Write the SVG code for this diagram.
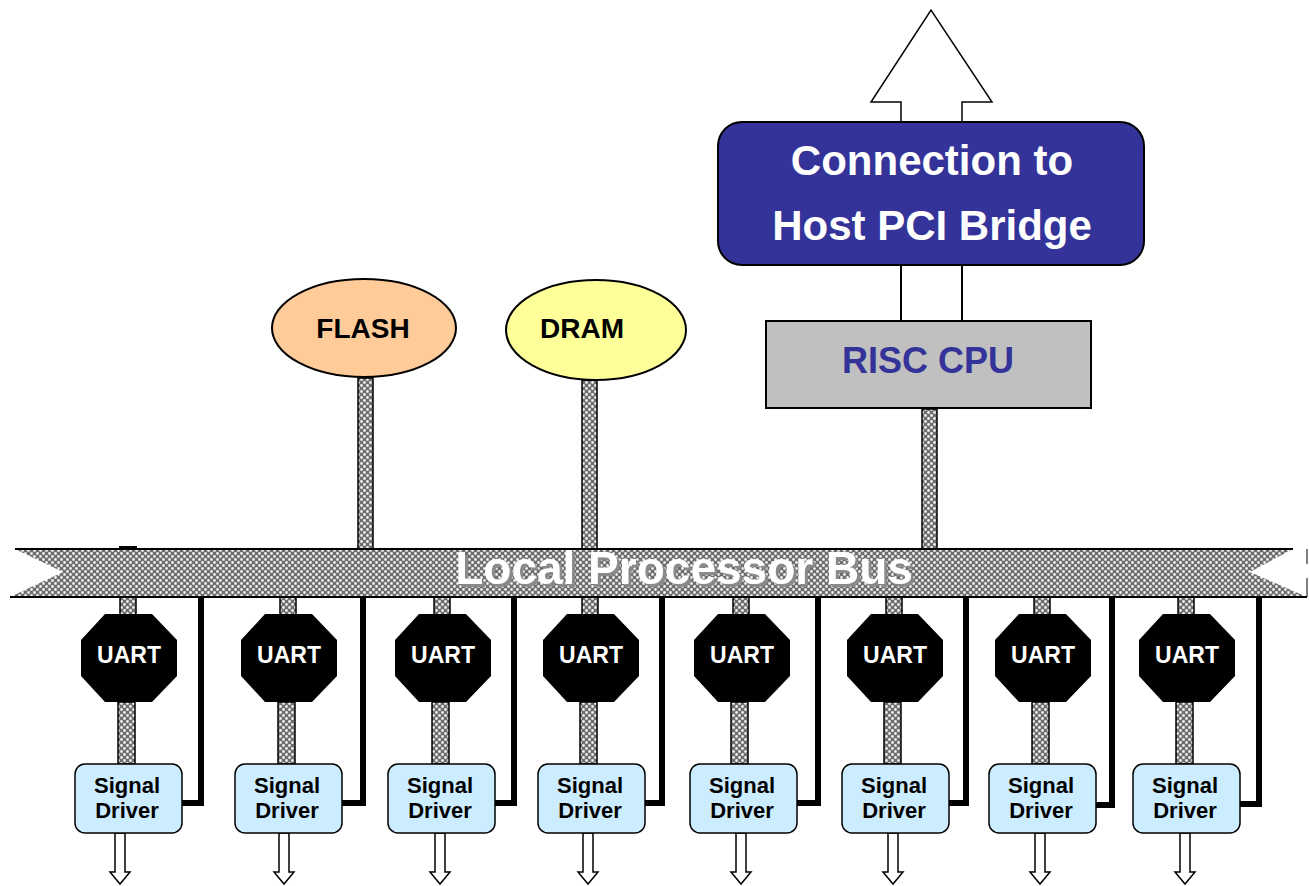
<svg xmlns="http://www.w3.org/2000/svg" width="1309" height="886" viewBox="0 0 1309 886">
<defs>
<pattern id="hatch" width="6" height="6" patternUnits="userSpaceOnUse">
<rect width="6" height="6" fill="#6e6e6e"/>
<rect x="0" y="0" width="3" height="3" fill="#9c9c9c"/>
<rect x="3" y="3" width="3" height="3" fill="#9c9c9c"/>
<circle cx="1.5" cy="1.5" r="1.15" fill="#fff"/>
<circle cx="4.5" cy="4.5" r="1.15" fill="#fff"/>
</pattern>
<filter id="shadow" x="-5%" y="-20%" width="110%" height="140%">
<feOffset in="SourceAlpha" dx="3" dy="3" result="off"/>
<feFlood flood-color="#8a8a8a"/>
<feComposite in2="off" operator="in" result="sh"/>
<feMerge><feMergeNode in="sh"/><feMergeNode in="SourceGraphic"/></feMerge>
</filter>
<style>
text{font-family:"Liberation Sans",Arial,sans-serif;font-weight:bold;text-anchor:middle}
.stub{fill:url(#hatch);stroke:#000;stroke-width:1.5}
.bar{fill:none;stroke:#000;stroke-width:6}
.thin{fill:none;stroke:#000;stroke-width:2}
.oarrow{fill:#fff;stroke:#000;stroke-width:1.5;stroke-linejoin:miter}
.uart{fill:#000}
.uart text{fill:#fff;font-size:23px}
.sd rect{fill:#CCECFF;stroke:#000;stroke-width:1.5}
.sd text{fill:#000;font-size:22px}
</style>
</defs>
<rect width="1309" height="886" fill="#fff"/>

<g id="connectors">
<polygon class="oarrow" points="901,122 901,102 871,102 931,10 992,102 962,102 962,122" stroke-width="2"/>
<line class="thin" x1="901" y1="265" x2="901" y2="321"/>
<line class="thin" x1="962" y1="265" x2="962" y2="321"/>
<rect class="stub" x="358" y="378" width="15" height="171"/>
<rect class="stub" x="582" y="380" width="15" height="169"/>
<rect class="stub" x="922" y="409" width="15" height="140"/>
<line x1="119" y1="547" x2="137" y2="547" stroke="#000" stroke-width="2"/>
<g id="col-stubs">
<rect class="stub" x="120" y="597" width="16" height="18"/><rect class="stub" x="118" y="702" width="17" height="62"/>
<rect class="stub" x="280" y="597" width="16" height="18"/><rect class="stub" x="278" y="702" width="17" height="62"/>
<rect class="stub" x="434" y="597" width="16" height="18"/><rect class="stub" x="432" y="702" width="17" height="62"/>
<rect class="stub" x="582" y="597" width="16" height="18"/><rect class="stub" x="580" y="702" width="17" height="62"/>
<rect class="stub" x="733" y="597" width="16" height="18"/><rect class="stub" x="731" y="702" width="17" height="62"/>
<rect class="stub" x="886" y="597" width="16" height="18"/><rect class="stub" x="884" y="702" width="17" height="62"/>
<rect class="stub" x="1034" y="597" width="16" height="18"/><rect class="stub" x="1032" y="702" width="17" height="62"/>
<rect class="stub" x="1178" y="597" width="16" height="18"/><rect class="stub" x="1176" y="702" width="17" height="62"/>
</g>
<g id="returns">
<polyline class="bar" points="201,598 201,803 182,803"/>
<polyline class="bar" points="363,598 363,803 342,803"/>
<polyline class="bar" points="514,598 514,803 495,803"/>
<polyline class="bar" points="662,598 662,803 645,803"/>
<polyline class="bar" points="818,598 818,803 797,803"/>
<polyline class="bar" points="966,598 966,803 949,803"/>
<polyline class="bar" points="1112,598 1112,805 1096,805"/>
<polyline class="bar" points="1259,598 1259,804 1240,804"/>
</g>
<g id="outputs">
<polygon class="oarrow" points="115,833 115,872 110,872 120,884 130,872 125,872 125,833"/>
<polygon class="oarrow" points="279,833 279,872 274,872 284,884 294,872 289,872 289,833"/>
<polygon class="oarrow" points="435,833 435,872 430,872 440,884 450,872 445,872 445,833"/>
<polygon class="oarrow" points="583,833 583,872 578,872 588,884 598,872 593,872 593,833"/>
<polygon class="oarrow" points="736,833 736,872 731,872 741,884 751,872 746,872 746,833"/>
<polygon class="oarrow" points="888,833 888,872 883,872 893,884 903,872 898,872 898,833"/>
<polygon class="oarrow" points="1035,833 1035,872 1030,872 1040,884 1050,872 1045,872 1045,833"/>
<polygon class="oarrow" points="1180,833 1180,872 1175,872 1185,884 1195,872 1190,872 1190,833"/>
</g>
</g>

<g id="bus">
<polygon points="15,549 1293,549 1250,572 1307,597 10,597 63,572" fill="url(#hatch)"/>
<line x1="15" y1="549" x2="1293" y2="549" stroke="#000" stroke-width="2"/>
<line x1="10" y1="597" x2="1307" y2="597" stroke="#000" stroke-width="2"/>
<line x1="1307" y1="549" x2="1307" y2="564" stroke="#000" stroke-width="1"/>
<line x1="1307" y1="578" x2="1307" y2="597" stroke="#000" stroke-width="1"/>
<text x="684" y="584" font-size="46" fill="#fff" filter="url(#shadow)">Local Processor Bus</text>
</g>

<g id="flash">
<ellipse cx="364" cy="328" rx="92" ry="49" fill="#FFCC99" stroke="#000" stroke-width="2"/>
<text x="363" y="338" font-size="28">FLASH</text>
</g>
<g id="dram">
<ellipse cx="596" cy="330" rx="90" ry="50" fill="#FFFF99" stroke="#000" stroke-width="2"/>
<text x="582" y="338" font-size="28">DRAM</text>
</g>
<g id="host-bridge">
<rect x="718" y="122" width="426" height="143" rx="24" fill="#333399" stroke="#000" stroke-width="2"/>
<text x="932" y="175" font-size="42" fill="#fff">Connection to</text>
<text x="932" y="240" font-size="42" fill="#fff">Host PCI Bridge</text>
</g>
<g id="risc-cpu">
<rect x="766" y="321" width="325" height="87" fill="#C0C0C0" stroke="#000" stroke-width="2"/>
<text x="928" y="373" font-size="36" fill="#333399">RISC CPU</text>
</g>

<g id="uart1" class="uart" transform="translate(129,658)"><polygon points="-24,-44 23,-44 48,-18 48,18 23,44 -24,44 -48,18 -48,-18"/><text x="0" y="5">UART</text></g>
<g id="uart2" class="uart" transform="translate(289,658)"><polygon points="-24,-44 23,-44 48,-18 48,18 23,44 -24,44 -48,18 -48,-18"/><text x="0" y="5">UART</text></g>
<g id="uart3" class="uart" transform="translate(443,658)"><polygon points="-24,-44 23,-44 48,-18 48,18 23,44 -24,44 -48,18 -48,-18"/><text x="0" y="5">UART</text></g>
<g id="uart4" class="uart" transform="translate(591,658)"><polygon points="-24,-44 23,-44 48,-18 48,18 23,44 -24,44 -48,18 -48,-18"/><text x="0" y="5">UART</text></g>
<g id="uart5" class="uart" transform="translate(742,658)"><polygon points="-24,-44 23,-44 48,-18 48,18 23,44 -24,44 -48,18 -48,-18"/><text x="0" y="5">UART</text></g>
<g id="uart6" class="uart" transform="translate(895,658)"><polygon points="-24,-44 23,-44 48,-18 48,18 23,44 -24,44 -48,18 -48,-18"/><text x="0" y="5">UART</text></g>
<g id="uart7" class="uart" transform="translate(1043,658)"><polygon points="-24,-44 23,-44 48,-18 48,18 23,44 -24,44 -48,18 -48,-18"/><text x="0" y="5">UART</text></g>
<g id="uart8" class="uart" transform="translate(1187,658)"><polygon points="-24,-44 23,-44 48,-18 48,18 23,44 -24,44 -48,18 -48,-18"/><text x="0" y="5">UART</text></g>

<g id="sd1" class="sd" transform="translate(75,764)"><rect width="107" height="69" rx="10"/><text x="52" y="29">Signal</text><text x="52" y="54">Driver</text></g>
<g id="sd2" class="sd" transform="translate(235,764)"><rect width="107" height="69" rx="10"/><text x="52" y="29">Signal</text><text x="52" y="54">Driver</text></g>
<g id="sd3" class="sd" transform="translate(388,764)"><rect width="107" height="69" rx="10"/><text x="52" y="29">Signal</text><text x="52" y="54">Driver</text></g>
<g id="sd4" class="sd" transform="translate(538,764)"><rect width="107" height="69" rx="10"/><text x="52" y="29">Signal</text><text x="52" y="54">Driver</text></g>
<g id="sd5" class="sd" transform="translate(690,764)"><rect width="107" height="69" rx="10"/><text x="52" y="29">Signal</text><text x="52" y="54">Driver</text></g>
<g id="sd6" class="sd" transform="translate(842,764)"><rect width="107" height="69" rx="10"/><text x="52" y="29">Signal</text><text x="52" y="54">Driver</text></g>
<g id="sd7" class="sd" transform="translate(989,764)"><rect width="107" height="69" rx="10"/><text x="52" y="29">Signal</text><text x="52" y="54">Driver</text></g>
<g id="sd8" class="sd" transform="translate(1133,764)"><rect width="107" height="69" rx="10"/><text x="52" y="29">Signal</text><text x="52" y="54">Driver</text></g>
</svg>
